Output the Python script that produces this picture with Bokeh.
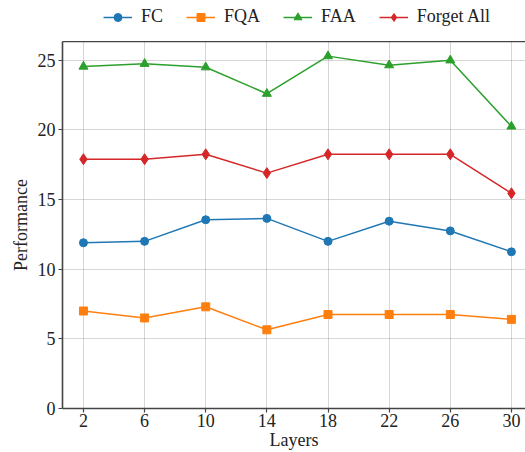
from bokeh.plotting import figure
from bokeh.layouts import column
from bokeh.models import Legend, LegendItem, LinearAxis, FixedTicker, Range1d
from bokeh.embed import file_html
from bokeh.resources import INLINE

# Performance per layer for each forgetting setting
layers = [2, 6, 10, 14, 18, 22, 26, 30]
fc = [11.9, 12.0, 13.55, 13.65, 12.0, 13.45, 12.75, 11.25]
fqa = [7.0, 6.5, 7.3, 5.65, 6.75, 6.75, 6.75, 6.4]
faa = [24.55, 24.75, 24.5, 22.6, 25.3, 24.65, 25.0, 20.25]
forget_all = [17.9, 17.9, 18.25, 16.9, 18.25, 18.25, 18.25, 15.45]
y_ticks = [0, 5, 10, 15, 20, 25]

series_names = ["FC", "FQA", "FAA", "Forget All"]
colors = ["#1f77b4", "#ff7f0e", "#2ca02c", "#d62728"]
markers = ["circle", "square", "triangle", "diamond"]
marker_sizes = [8, 8, 9, 11]
FONT = "Liberation Serif"
FS = "18px"
TXT = "#222222"
SPINE = "#444444"
data = [fc, fqa, faa, forget_all]

# ---- main chart ----
p = figure(width=525, height=411, output_backend="svg", toolbar_location=None,
           x_range=Range1d(0.63, 30.92), y_range=Range1d(0, 26.35),
           min_border_left=62, min_border_right=0, min_border_top=0,
           min_border_bottom=40)
p.outline_line_color = None

for g in (p.xgrid, p.ygrid):
    g.grid_line_color = "#9a9a9a"
    g.grid_line_dash = "1 1"
    g.grid_line_width = 1
    g.grid_line_alpha = 0.8

for ax in (p.xaxis[0], p.yaxis[0]):
    ax.axis_line_color = SPINE
    ax.axis_line_width = 1.6
    ax.major_tick_line_color = SPINE
    ax.major_tick_line_width = 1.2
    ax.major_tick_out = 4
    ax.major_tick_in = 0
    ax.minor_tick_line_color = None
    ax.major_label_text_font = FONT
    ax.major_label_text_font_size = FS
    ax.major_label_text_color = TXT
    ax.axis_label_text_font = FONT
    ax.axis_label_text_font_size = FS
    ax.axis_label_text_font_style = "normal"
    ax.axis_label_text_color = TXT

p.xaxis.ticker = FixedTicker(ticks=layers)
p.yaxis.ticker = FixedTicker(ticks=y_ticks)
p.xaxis.axis_label = "Layers"
p.yaxis.axis_label = "Performance"
p.xaxis.axis_label_standoff = 0
p.yaxis.axis_label_standoff = 4
p.xaxis.major_label_standoff = 1
p.yaxis.major_label_standoff = 3

# top spine
top = LinearAxis(major_tick_line_color=None, minor_tick_line_color=None,
                 major_label_text_font_size="0px", axis_line_color=SPINE,
                 axis_line_width=1.6)
top.ticker = FixedTicker(ticks=[])
p.add_layout(top, "above")

for ys, c, m, s in zip(data, colors, markers, marker_sizes):
    p.line(layers, ys, line_color=c, line_width=1.5)
    p.scatter(layers, ys, marker=m, size=s, fill_color=c, line_color=c)

# ---- legend strip above the chart ----
# The series are re-drawn here outside the visible range, only so that the
# legend has glyphs to show.
lg = figure(width=525, height=41, output_backend="svg", toolbar_location=None,
            x_range=Range1d(-1, 0), y_range=Range1d(-1, 0),
            min_border=0, x_axis_type=None, y_axis_type=None)
lg.outline_line_color = None
lg.xgrid.visible = False
lg.ygrid.visible = False

items = []
for name, ys, c, m, s in zip(series_names, data, colors, markers, marker_sizes):
    ln = lg.line(layers, ys, line_color=c, line_width=1.5)
    mk = lg.scatter(layers, ys, marker=m, size=s - 2, fill_color=c, line_color=c)
    items.append(LegendItem(label=name, renderers=[ln, mk]))

legend = Legend(items=items, orientation="horizontal", location=(41, 14),
                label_text_font=FONT, label_text_font_size=FS,
                label_text_color=TXT, glyph_width=29, glyph_height=20,
                label_standoff=9, spacing=23, padding=0, margin=0,
                border_line_color=None, background_fill_alpha=0)
lg.add_layout(legend, "center")

layout = column(lg, p, spacing=0)
open("out.html", "w").write(file_html(layout, INLINE))
